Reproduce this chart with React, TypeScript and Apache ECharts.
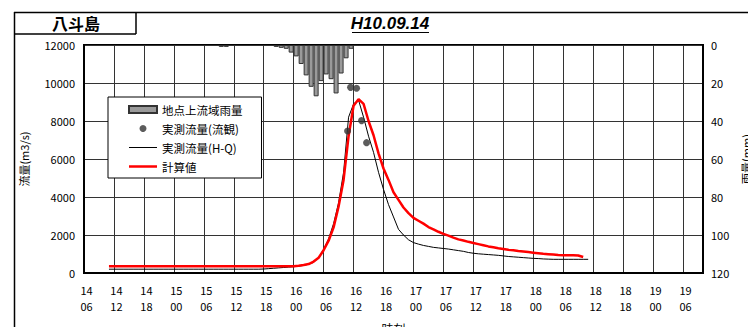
import React, { useEffect, useRef } from 'react';
import * as echarts from 'echarts';

const FONT = '"Noto Sans CJK JP", "Noto Sans", sans-serif';

// x axis: hours elapsed since 14日 06時
const xTickLabels = [
  '14\n06', '14\n12', '14\n18', '15\n00', '15\n06', '15\n12', '15\n18',
  '16\n00', '16\n06', '16\n12', '16\n18', '17\n00', '17\n06', '17\n12',
  '17\n18', '18\n00', '18\n06', '18\n12', '18\n18', '19\n00', '19\n06',
];

// hourly basin rainfall (mm), first value is hour 27
const rainStart = 27;
const rainfall = [
  1, 1, 0, 0, 0, 0, 0, 0, 0, 0, 0, 1, 1.5, 2, 4, 6, 10, 16, 22, 27, 19, 15.5,
  18, 25.5, 15, 7, 2, 0.5,
];

// observed discharge (流観)
const obsHours = [52.8, 53.4, 54.6, 55.6, 56.6];
const obsFlow = [7470, 9770, 9720, 8020, 6860];

// observed discharge (H-Q), hourly from hour 5
const hqStart = 5;
const hqFlow = [
  200, 200, 200, 200, 200, 200, 200, 200, 200, 200, 200, 200, 200, 200, 200, 200,
  200, 200, 200, 200, 200, 200, 200, 200, 200, 200, 200, 200, 200, 200, 200,
  210, 230, 250, 270, 290, 310, 330, 360, 400, 460, 560, 800, 1250, 1800, 2600,
  3700, 5300, 8200, 8900, 9100, 8200, 7200, 6350, 5300, 4400, 3600, 2950, 2300,
  2000, 1750, 1600, 1520, 1450, 1400, 1350, 1320, 1290, 1260, 1220, 1180, 1140,
  1080, 1040, 1010, 990, 970, 950, 930, 900, 870, 850, 830, 810, 790, 770, 760,
  740, 730, 720, 720, 720, 720, 720, 720, 720, 720,
];

// computed discharge (計算値), hourly from hour 5
const calcStart = 5;
const calcFlow = [
  360, 360, 360, 360, 360, 360, 360, 360, 360, 360, 360, 360, 360, 360, 360, 360,
  360, 360, 360, 360, 360, 360, 360, 360, 360, 360, 360, 360, 360, 360, 360, 360,
  360, 360, 360, 360, 360, 360, 380, 420, 470, 600, 800, 1200, 1700, 2400, 3500,
  4900, 7200, 8800, 9150, 8900, 8000, 7250, 6300, 5500, 4900, 4250, 3850, 3450,
  3150, 2900, 2750, 2600, 2420, 2300, 2170, 2060, 1970, 1860, 1770, 1710, 1640,
  1580, 1520, 1460, 1400, 1350, 1300, 1260, 1220, 1200, 1160, 1130, 1100, 1070,
  1040, 1010, 990, 970, 950, 940, 935, 930, 920, 840,
];

export default function App() {
  const ref = useRef<HTMLDivElement>(null);

  useEffect(() => {
    document.body.style.margin = '0';
    const chart = echarts.init(ref.current!, null, { renderer: 'svg' });

    const rainData = rainfall
      .map((v, i) => [rainStart + i + 0.5, v])
      .filter((d) => d[1] > 0);
    const hqData = hqFlow.map((v, i) => [hqStart + i, v]);
    const calcData = calcFlow.map((v, i) => [calcStart + i, v]);
    const obsData = obsHours.map((h, i) => [h, obsFlow[i]]);

    const frame = { stroke: '#000', lineWidth: 1.5 };

    chart.setOption({
      animation: false,
      backgroundColor: '#fff',
      textStyle: { fontFamily: FONT },
      grid: {
        left: 84, right: 45, top: 45, bottom: 54,
        containLabel: false,
        outerBoundsMode: 'none',
        show: true, borderColor: '#000', borderWidth: 2,
      },
      legend: {
        orient: 'vertical',
        left: 108,
        top: 97,
        padding: [6, 19, 5, 20],
        itemWidth: 28,
        itemHeight: 7,
        itemGap: 6,
        backgroundColor: '#fff',
        borderColor: '#000',
        borderWidth: 1,
        selectedMode: false,
        textStyle: { fontFamily: FONT, fontSize: 11.5, color: '#000', lineHeight: 13 },
        data: [
          { name: '地点上流域雨量', icon: 'rect' },
          { name: '実測流量(流観)', icon: 'circle' },
          { name: '実測流量(H-Q)', icon: 'path://M0,0M0,3h28v1h-28zM28,7' },
          { name: '計算値', icon: 'path://M0,0M0,2.25h28v2.5h-28zM28,7' },
        ],
      },
      xAxis: {
        type: 'value',
        min: 0,
        max: 124,
        interval: 6,
        name: '時刻',
        nameLocation: 'middle',
        nameGap: 49,
        nameTextStyle: { fontFamily: FONT, fontSize: 12, color: '#000' },
        axisLine: { show: true, lineStyle: { color: '#000', width: 2 } },
        axisTick: { show: false },
        axisLabel: {
          fontFamily: FONT,
          fontSize: 11,
          lineHeight: 16,
          color: '#000',
          margin: 9,
          padding: [0, 0, 0, 5],
          showMaxLabel: false,
          formatter: (v: number) => (v % 6 === 0 ? xTickLabels[v / 6] ?? '' : ''),
        },
        splitLine: { show: true, lineStyle: { color: '#333', width: 1 } },
      },
      yAxis: [
        {
          type: 'value',
          min: 0,
          max: 12000,
          interval: 2000,
          name: '流量(m3/s)',
          nameLocation: 'middle',
          nameGap: 55,
          nameTextStyle: { fontFamily: FONT, fontSize: 11, color: '#000' },
          axisLine: { show: true, lineStyle: { color: '#000', width: 2 } },
          axisTick: { show: false },
          axisLabel: {
            fontFamily: FONT, fontSize: 11, color: '#000', margin: 9,
            formatter: (v: number) => String(v),
          },
          splitLine: { show: true, lineStyle: { color: '#333', width: 1 } },
        },
        {
          type: 'value',
          min: 0,
          max: 120,
          interval: 20,
          inverse: true,
          position: 'right',
          name: '雨量(mm)',
          nameLocation: 'middle',
          nameGap: 35,
          nameTextStyle: { fontFamily: FONT, fontSize: 11, color: '#000' },
          axisLine: { show: true, lineStyle: { color: '#000', width: 2 } },
          axisTick: { show: false },
          axisLabel: {
            fontFamily: FONT, fontSize: 11, color: '#000', margin: 8,
            formatter: (v: number) => String(v),
          },
          splitLine: { show: false },
        },
      ],
      series: [
        {
          name: '地点上流域雨量',
          type: 'bar',
          yAxisIndex: 1,
          barWidth: 5,
          data: rainData,
          itemStyle: { color: '#9a9a9a', borderColor: '#333', borderWidth: 1 },
        },
        {
          name: '実測流量(H-Q)',
          type: 'line',
          data: hqData,
          symbol: 'none',
          showSymbol: false,
          lineStyle: { color: '#000', width: 1 },
          itemStyle: { color: '#000' },
        },
        {
          name: '計算値',
          type: 'line',
          data: calcData,
          symbol: 'none',
          showSymbol: false,
          lineStyle: { color: '#ff0000', width: 2.5 },
          itemStyle: { color: '#ff0000' },
        },
        {
          name: '実測流量(流観)',
          type: 'scatter',
          data: obsData,
          symbol: 'circle',
          symbolSize: 7,
          itemStyle: { color: '#333' },
          z: 5,
        },
      ],
      graphic: [
        { type: 'line', shape: { x1: 14, y1: 12.5, x2: 748, y2: 12.5 }, style: frame },
        { type: 'line', shape: { x1: 14.5, y1: 12, x2: 14.5, y2: 327 }, style: frame },
        { type: 'line', shape: { x1: 136, y1: 12, x2: 136, y2: 34 }, style: frame },
        { type: 'line', shape: { x1: 14, y1: 34, x2: 136, y2: 34 }, style: frame },
        {
          type: 'text',
          x: 76,
          y: 23,
          style: {
            text: '八斗島',
            fontFamily: FONT,
            fontWeight: 'bold',
            fontSize: 16,
            fill: '#000',
            align: 'center',
            verticalAlign: 'middle',
          },
        },
        {
          type: 'text',
          x: 390,
          y: 23,
          style: {
            text: 'H10.09.14',
            fontFamily: '"Liberation Sans", Arial, sans-serif',
            fontWeight: 'bold',
            fontStyle: 'italic',
            fontSize: 17,
            fill: '#000',
            align: 'center',
            verticalAlign: 'middle',
          },
        },
        { type: 'line', shape: { x1: 352, y1: 32.5, x2: 429, y2: 32.5 }, style: { stroke: '#000', lineWidth: 1.2 } },
      ],
    });

    return () => chart.dispose();
  }, []);

  return <div ref={ref} style={{ width: 748, height: 327 }} />;
}
